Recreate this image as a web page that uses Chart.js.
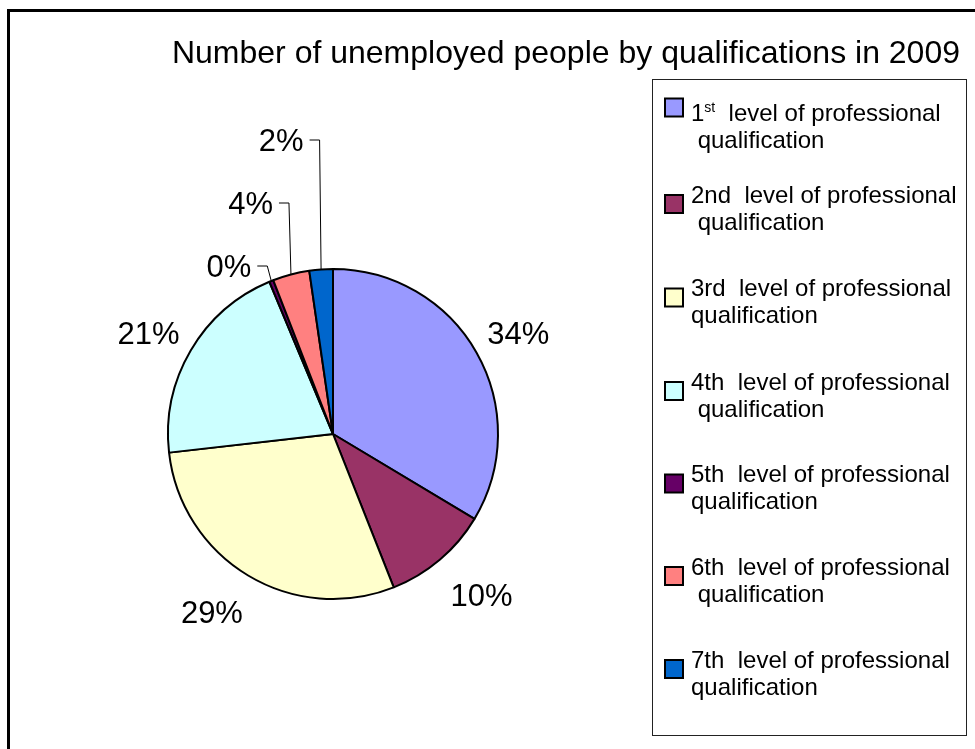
<!DOCTYPE html>
<html>
<head>
<meta charset="utf-8">
<script src="https://cdn.jsdelivr.net/npm/chart.js@4.4.1/dist/chart.umd.min.js"></script>
<style>
html,body{margin:0;padding:0;background:#fff;}
#wrap{position:relative;width:975px;height:749px;}
</style>
</head>
<body>
<div id="wrap"><canvas id="c" width="975" height="749"></canvas></div>
<script>
// ---- data ----
const chartTitle = 'Number of unemployed people by qualifications in 2009';
const categoryLines = [
  ['1st  level of professional', ' qualification'],
  ['2nd  level of professional', ' qualification'],
  ['3rd  level of professional', 'qualification'],
  ['4th  level of professional', ' qualification'],
  ['5th  level of professional', 'qualification'],
  ['6th  level of professional', ' qualification'],
  ['7th  level of professional', 'qualification']
];
const shares = [33.6, 10.4, 29.2, 20.5, 0.4, 3.6, 2.3];
const sliceColors = ['#9999FF', '#993366', '#FFFFCC', '#CCFFFF', '#660066', '#FF8080', '#0066CC'];

const FONT = '"Liberation Sans", Arial, sans-serif';

// ---- decorations: frame, title, legend, labels ----
const decor = {
  id: 'decor',
  afterDraw(chart, args, opts) {
    const ctx = chart.ctx;
    ctx.save();
    // outer frame
    ctx.strokeStyle = '#000';
    ctx.lineWidth = 3;
    ctx.strokeRect(8.5, 10.5, 1000, 800);

    // title
    ctx.fillStyle = '#000';
    ctx.font = opts.titleSize + 'px ' + FONT;
    ctx.textAlign = 'right';
    ctx.textBaseline = 'alphabetic';
    ctx.fillText(chartTitle, opts.titleRight, opts.titleBaseline);

    // legend box
    const lb = opts.legendBox;
    ctx.lineWidth = 1;
    ctx.strokeStyle = '#222';
    ctx.strokeRect(lb.x + 0.5, lb.y + 0.5, lb.w, lb.h);

    const ls = opts.legendSize;
    const cap = ls * 0.716;
    chart.data.labels.forEach((lines, i) => {
      const cy = opts.legendRowY[i];
      const base = cy + cap / 2;
      // swatch
      const sy = cy + opts.swatchShift[i];
      ctx.fillStyle = sliceColors[i];
      ctx.fillRect(lb.swX, sy, opts.swatch, opts.swatch);
      ctx.lineWidth = 2;
      ctx.strokeStyle = '#000';
      ctx.strokeRect(lb.swX, sy, opts.swatch, opts.swatch);
      // text
      ctx.fillStyle = '#000';
      ctx.textAlign = 'left';
      ctx.font = ls + 'px ' + FONT;
      let x = lb.textX;
      const m = lines[0].match(/^(\d+)(st|nd|rd|th)(.*)$/);
      if (opts.superscript.includes(i) && m) {
        ctx.fillText(m[1], x, base);
        x += ctx.measureText(m[1]).width;
        ctx.font = Math.round(ls * 0.6) + 'px ' + FONT;
        ctx.fillText(m[2], x, base - ls * 0.36);
        x += ctx.measureText(m[2]).width;
        ctx.font = ls + 'px ' + FONT;
        ctx.fillText(m[3], x, base);
      } else {
        ctx.fillText(lines[0], x, base);
      }
      ctx.fillText(lines[1], lb.textX, base + opts.lineGap);
    });

    // slice labels
    const meta = chart.getDatasetMeta(0);
    const data = chart.data.datasets[0].data;
    const total = data.reduce((a, b) => a + b, 0);
    const ps = opts.pctSize;
    ctx.font = ps + 'px ' + FONT;
    const pcap = ps * 0.716;
    meta.data.forEach((arc, i) => {
      const txt = Math.round(data[i] / total * 100) + '%';
      const mid = (arc.startAngle + arc.endAngle) / 2;
      const dx = Math.cos(mid), dy = Math.sin(mid);
      const R = arc.outerRadius;
      const st = opts.labelStyle[i];
      ctx.fillStyle = '#000';
      if (st.leaderY !== undefined) {
        const px = arc.x + dx * R, py = arc.y + dy * R;
        const ex = px + st.elbowDx, ey = st.leaderY;
        ctx.strokeStyle = '#000';
        ctx.lineWidth = 1;
        ctx.beginPath();
        ctx.moveTo(px, py);
        ctx.lineTo(ex, ey);
        ctx.lineTo(ex - 10, ey);
        ctx.stroke();
        ctx.textAlign = 'right';
        ctx.fillText(txt, ex - 16, ey + pcap / 2);
      } else {
        const d = R + opts.labelGap;
        const cx = arc.x + dx * d + st.nudge[0];
        const cy = arc.y + dy * d + st.nudge[1];
        ctx.textAlign = 'center';
        ctx.fillText(txt, cx, cy + pcap / 2);
      }
    });
    ctx.restore();
  }
};

new Chart(document.getElementById('c'), {
  type: 'pie',
  data: {
    labels: categoryLines,
    datasets: [{
      data: shares,
      backgroundColor: sliceColors,
      borderColor: '#000',
      borderWidth: 2
    }]
  },
  options: {
    responsive: false,
    devicePixelRatio: 1,
    animation: false,
    events: [],
    layout: { padding: { left: 167, right: 476, top: 268, bottom: 149 } },
    plugins: {
      legend: { display: false },
      title: { display: false },
      tooltip: { enabled: false },
      decor: {
        titleSize: 32, titleRight: 960, titleBaseline: 63,
        legendBox: { x: 652, y: 79, w: 314, h: 656, swX: 665, textX: 691 },
        legendSize: 24, lineGap: 27, swatch: 18,
        legendRowY: [112.5, 194, 287.5, 381, 473.5, 566, 659],
        swatchShift: [-14, 1, 1, 1, 1, 1, 1],
        superscript: [0],
        pctSize: 31, labelGap: 49,
        labelStyle: [
          { nudge: [-1, 4] }, { nudge: [10, -2] }, { nudge: [-11, -6] }, { nudge: [0, 7] },
          { leaderY: 266, elbowDx: -4 }, { leaderY: 203, elbowDx: -2 }, { leaderY: 140, elbowDx: -1.5 }
        ]
      }
    }
  },
  plugins: [decor]
});
</script>
</body>
</html>
